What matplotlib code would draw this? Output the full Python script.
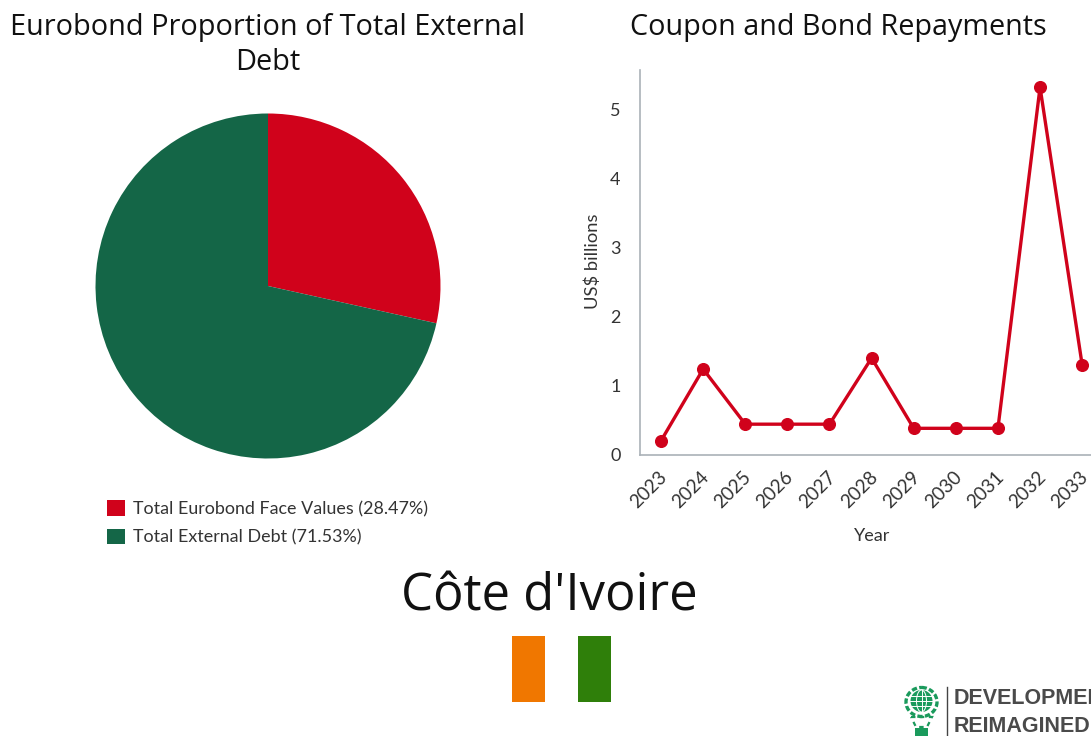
import matplotlib
matplotlib.use("Agg")
import matplotlib.pyplot as plt
from matplotlib.patches import Circle, Ellipse, Polygon, Rectangle
from matplotlib.transforms import ScaledTranslation

W, H = 1091, 736

# pie data
pie_labels = ["Total Eurobond Face Values (28.47%)", "Total External Debt (71.53%)"]
pie_values = [28.47, 71.53]
pie_colors = ["#d0021b", "#146647"]

# repayments data
years = [2023, 2024, 2025, 2026, 2027, 2028, 2029, 2030, 2031, 2032, 2033]
repayments = [0.2, 1.24, 0.44, 0.44, 0.44, 1.4, 0.38, 0.38, 0.38, 5.33, 1.3]
y_ticks = [0, 1, 2, 3, 4, 5]

TEXT = "#333333"
RED = "#d0021b"


def px_axes(fig, left, top, right, bottom):
    # axes placed by pixel box, y measured from top of the image
    return fig.add_axes([left / W, 1 - bottom / H, (right - left) / W, (bottom - top) / H])


fig = plt.figure(figsize=(W / 100, H / 100), dpi=100, facecolor="white")

# pie
ax_pie = px_axes(fig, 95.5, 113.5, 440.5, 458.5)
wedges, _ = ax_pie.pie(pie_values, colors=pie_colors, startangle=90, counterclock=False, radius=1)
ax_pie.set_xlim(-1, 1)
ax_pie.set_ylim(-1, 1)
fig.text(268 / W, 1 - 28 / H, "Eurobond Proportion of Total External", ha="center", va="center",
         fontsize=20.8, family="Open Sans", color="#111111")
fig.text(268 / W, 1 - 63 / H, "Debt", ha="center", va="center",
         fontsize=20.8, family="Open Sans", color="#111111")
fig.legend(wedges, pie_labels, loc="upper left", bbox_to_anchor=(102 / W, 1 - 495 / H), frameon=False,
           prop={"family": "Lato", "size": 12.85}, labelcolor=TEXT, handlelength=1.0, handleheight=1.0,
           handletextpad=0.45, labelspacing=0.62, borderpad=0.3, borderaxespad=0)

# line
ax = px_axes(fig, 640, 70, 1091, 454.5)
ax.plot(years, repayments, color=RED, lw=2.4, marker="o", ms=8.4, clip_on=False, zorder=3)
ax.set_xlim(2022.5, 2033.21)
ax.set_ylim(0, 5.58)
ax.set_xticks(years)
ax.set_yticks(y_ticks)
ax.set_xticklabels(years, rotation=45, ha="right", rotation_mode="anchor")
ax.tick_params(length=0, labelsize=13, labelcolor=TEXT)
ax.tick_params(axis="y", pad=14)
ax.tick_params(axis="x", pad=10, labelsize=13.6)
nudge = ScaledTranslation(-2 / 72, 0, fig.dpi_scale_trans)
for label in ax.get_xticklabels():
    label.set_family("Lato")
    label.set_transform(label.get_transform() + nudge)
for label in ax.get_yticklabels():
    label.set_family("Lato")
ax.spines[["top", "right"]].set_visible(False)
ax.spines[["left", "bottom"]].set_color("#aab2b8")
ax.spines[["left", "bottom"]].set_linewidth(1.2)
fig.text(593 / W, 1 - 261 / H, "US$ billions", rotation=90, ha="center", va="center",
         fontsize=13.2, family="Lato", color=TEXT)
fig.text(872 / W, 1 - 536 / H, "Year", ha="center", va="center", fontsize=13, family="Lato", color=TEXT)
fig.text(838.5 / W, 1 - 28 / H, "Coupon and Bond Repayments", ha="center", va="center",
         fontsize=20.7, family="Open Sans", color="#111111")

# country name, flag and logo are drawn in image pixels
ov = fig.add_axes([0, 0, 1, 1], facecolor="none")
ov.set_xlim(0, W)
ov.set_ylim(H, 0)
ov.axis("off")
ov.text(549, 597, "Côte d'Ivoire", ha="center", va="center", fontsize=36.5, family="Open Sans", color="#111111")
ov.add_patch(Rectangle((512, 635.5), 33, 66.5, fc="#f07700", lw=0))
ov.add_patch(Rectangle((577.5, 635.5), 33.5, 66.5, fc="#2f7f0a", lw=0))

# logo
GREEN = "#1a9a5c"
ov.add_patch(Ellipse((921.5, 702), 31, 29, fc="none", ec=GREEN, lw=2.4, ls=(0, (1.6, 0.7))))
ov.add_patch(Circle((921.5, 701), 11, fc=GREEN, ec="none"))
for off in [-5, 0, 5]:
    ov.plot([910, 933], [701 + off, 701 + off], color="white", lw=0.7)
ov.add_patch(Ellipse((921.5, 701), 10, 22, fc="none", ec="white", lw=0.7))
ov.plot([921.5, 921.5], [690, 712], color="white", lw=0.7)
ov.add_patch(Polygon([(911, 717), (932, 717), (927, 727), (916, 727)], fc="none", ec=GREEN, lw=1.6, ls=(0, (2, 2))))
ov.add_patch(Rectangle((915, 728), 13, 8, fc=GREEN, lw=0))
ov.plot([946.7, 946.7], [687, 736], color="#444444", lw=1.0)
ov.text(954, 698, "DEVELOPMENT", ha="left", va="center", fontsize=15.5, fontweight="bold",
        family="Liberation Sans", color="#4a4a4a", clip_on=True)
ov.text(954, 727, "REIMAGINED", ha="left", va="center", fontsize=15.5, fontweight="bold",
        family="Liberation Sans", color="#4a4a4a", clip_on=True)

fig.savefig("out.png", dpi=100)
